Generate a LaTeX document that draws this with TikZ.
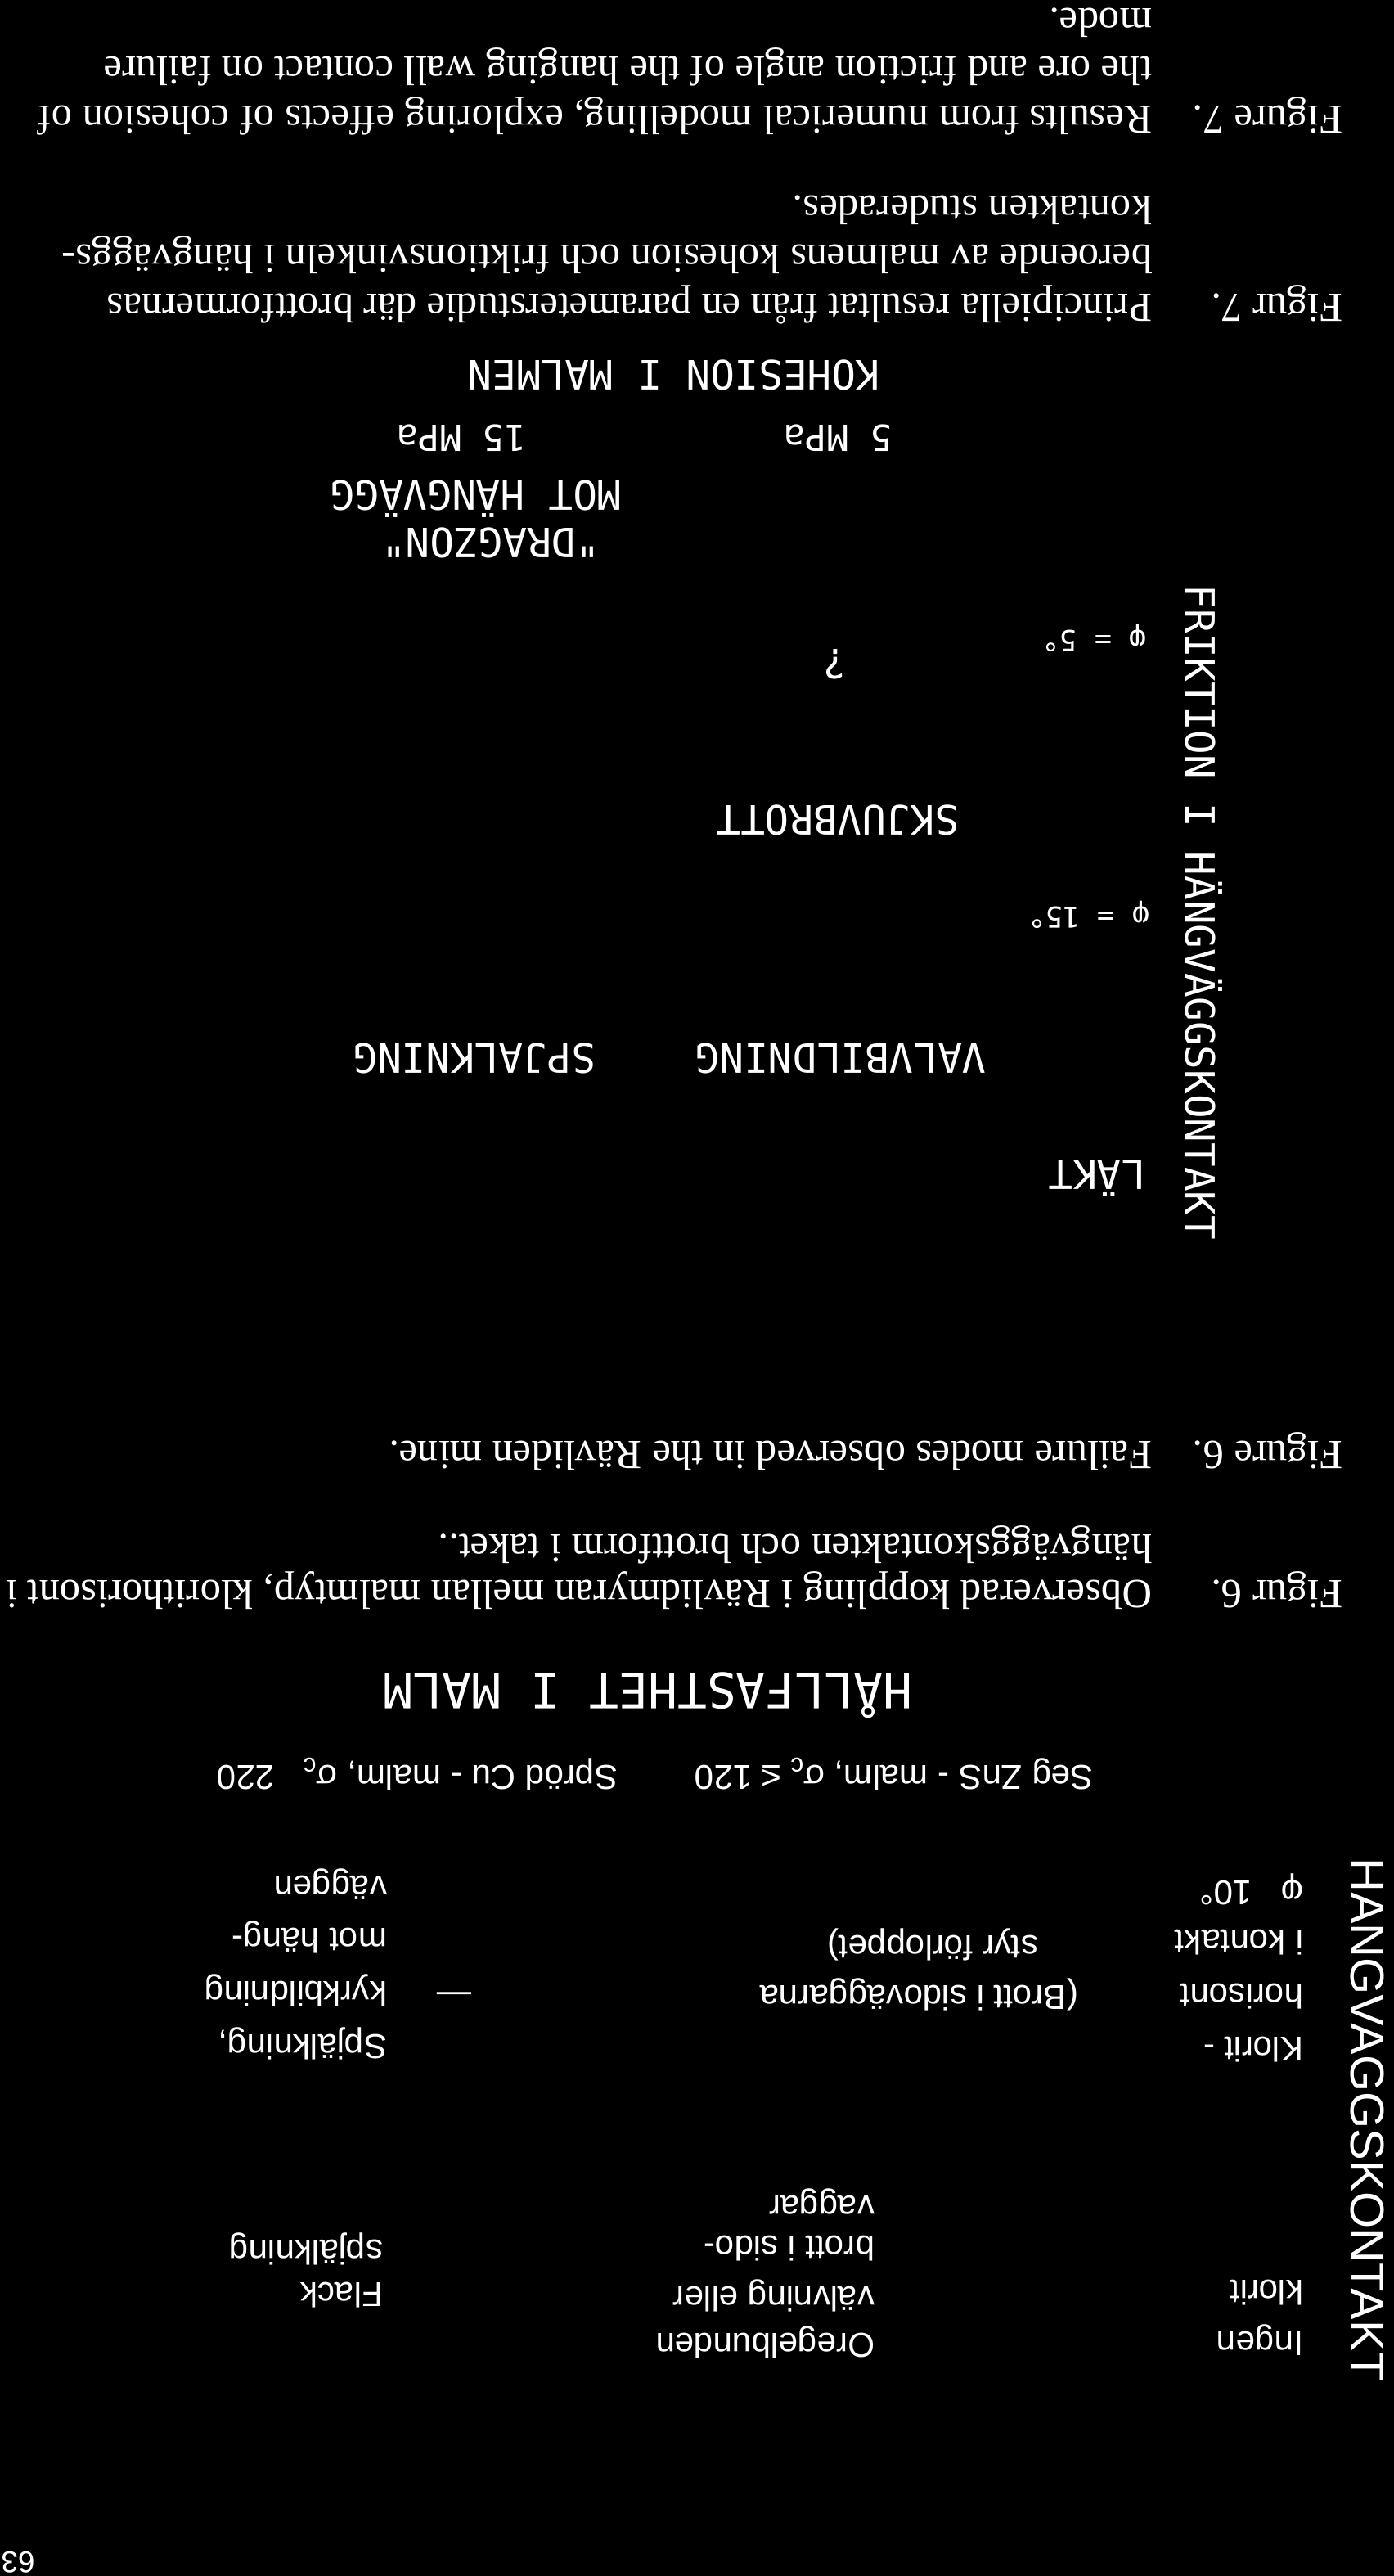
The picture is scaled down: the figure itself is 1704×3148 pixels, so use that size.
\documentclass[tikz,border=0pt]{standalone}
\usepackage{fontspec}
\setmainfont{Liberation Serif}
\newfontfamily\capfont{Liberation Serif}
\newfontfamily\figfont{Liberation Sans}
\newfontfamily\letfont{DejaVu Sans Mono}
\tikzset{
  capst/.style={font=\capfont\fontsize{14.4}{16}\selectfont, anchor=base west},
  sixst/.style={font=\figfont\fontsize{12}{14}\selectfont, anchor=west},
  sevst/.style={font=\letfont\fontsize{14}{16}\selectfont, anchor=center},
  phist/.style={font=\letfont\fontsize{10}{12}\selectfont, anchor=center},
  mpast/.style={font=\letfont\fontsize{12.5}{14}\selectfont, anchor=center},
}
\begin{document}
\begin{tikzpicture}[x=0.01cm,y=0.01cm]
\fill[black] (0,0) rectangle (1704,3148);
\useasboundingbox (0,0) rectangle (1704,3148);
\begin{scope}[rotate around={180:(852,1574)},
  every node/.style={transform shape, text=white, inner sep=0pt, outer sep=0pt}]
% ---------- Figure 7 captions ----------
\node[capst] (f7sl) at (63,360) {Figur 7.};
\node[capst] (f7s1) at (296,360) {Principiella resultat från en parameterstudie där brottformernas};
\node[capst] (f7s2) at (296,300) {beroende av malmens kohesion och friktionsvinkeln i hängväggs-};
\node[capst] (f7s3) at (296,240) {kontakten studerades.};
\node[capst] (f7el) at (63,130) {Figure 7.};
\node[capst] (f7e1) at (296,130) {Results from numerical modelling, exploring effects of cohesion of};
\node[capst] (f7e2) at (296,70) {the ore and friction angle of the hanging wall contact on failure};
\node[capst] (f7e3) at (296,11) {mode.};
% ---------- Figure 7 diagram ----------
\node[sevst, rotate=90] (f7y) at (232,1115) {FRIKTION I HÄNGVÄGGSKONTAKT};
\node[sevst] (lakt) at (363,1440) {LÄKT};
\node[sevst] (valv) at (676,1293) {VALVBILDNING};
\node[sevst] (spj7) at (1124,1293) {SPJALKNING};
\node[phist] (phi15) at (373,1118) {φ = 15°};
\node[sevst] (skjuv) at (680,1002) {SKJUVBROTT};
\node[phist] (phi5) at (366,780) {φ = 5°};
\node[sevst] (quest) at (683,812) {?};
\node[sevst] (drag) at (1104,663) {"DRAGZON"};
\node[sevst] (mothv) at (1122,610) {MOT HÄNGVÄGG};
\node[mpast] (mpa5) at (680,535) {5 MPa};
\node[mpast] (mpa15) at (1140,535) {15 MPa};
\node[sevst] (koh) at (880,458) {KOHESION I MALMEN};
% ---------- Figure 6 captions ----------
\node[capst] (f6sl) at (63,1932) {Figur 6.};
\node[capst] (f6s1) at (296,1932) {Observerad koppling i Rävlidmyran mellan malmtyp, klorithorisont i};
\node[capst] (f6s2) at (296,1876) {hängväggskontakten och brottform i taket..};
\node[capst] (f6el) at (63,1762) {Figure 6.};
\node[capst] (f6e1) at (296,1762) {Failure modes observed in the Rävliden mine.};
% ---------- Figure 6 diagram ----------
\node[font=\figfont\fontsize{16.5}{18}\selectfont, rotate=90] (f6y) at (33,2590) {HANGVAGGSKONTAKT};
\node[sixst] (ing1) at (111,2860) {Ingen};
\node[sixst] (ing2) at (111,2802) {klorit};
\node[sixst] (kl1) at (111,2505) {Klorit -};
\node[sixst] (kl2) at (111,2440) {horisont};
\node[sixst] (kl3) at (111,2374) {i kontakt};
\node[sixst] (kl4) at (111,2309) {φ ~ 10°};
\node[sixst] (or1) at (635,2862) {Oregelbunden};
\node[sixst] (or2) at (635,2805) {välvning eller};
\node[sixst] (or3) at (635,2748) {brott i sido-};
\node[sixst] (or4) at (635,2690) {vaggar};
\node[sixst] (fl1) at (1236,2805) {Flack};
\node[sixst] (fl2) at (1236,2748) {spjälkning};
\node[sixst] (br1) at (386,2437) {(Brott i sidoväggarna};
\node[sixst] (br2) at (435,2376) {styr förloppet)};
\node[sixst] (dash) at (1128,2432) {—};
\node[sixst] (sp1) at (1231,2497) {Spjälkning,};
\node[sixst] (sp2) at (1231,2432) {kyrkbildning};
\node[sixst] (sp3) at (1231,2367) {mot häng-};
\node[sixst] (sp4) at (1231,2303) {väggen};
\node[font=\letfont\fontsize{17}{19}\selectfont] (hall) at (912,2072) {HÅLLFASTHET I MALM};
\node[sixst, anchor=center] (seg) at (611,2168) {Seg ZnS - malm, σ\raisebox{-0.4ex}{\fontsize{9}{10}\selectfont c} ≤ 120};
\node[sixst] (spr) at (949,2168) {Spröd Cu - malm, σ\raisebox{-0.4ex}{\fontsize{9}{10}\selectfont c} ~ 220};
\node[font=\figfont\fontsize{10.5}{12}\selectfont] (pg) at (1682,3131) {63};
\end{scope}
\end{tikzpicture}
\end{document}
